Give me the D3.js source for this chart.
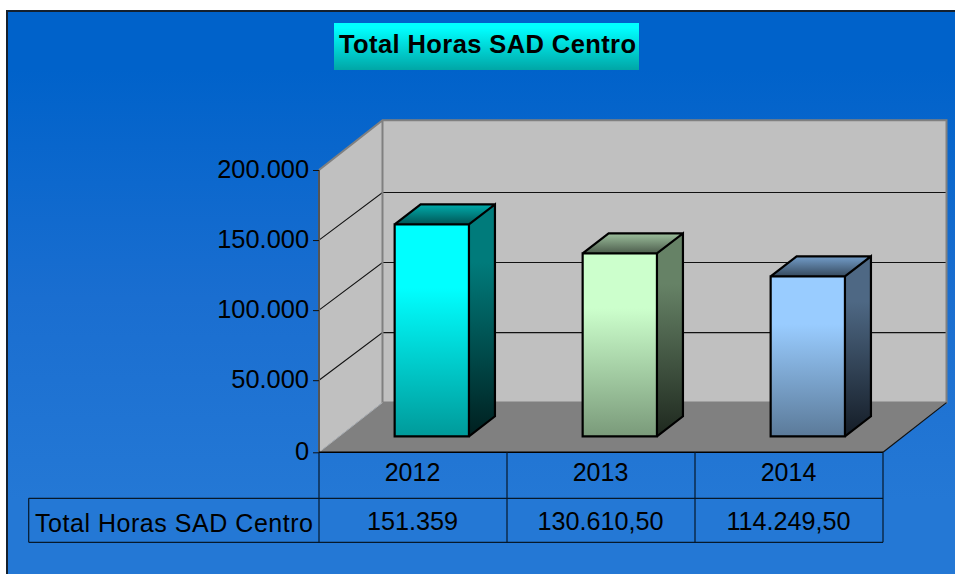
<!DOCTYPE html>
<html><head><meta charset="utf-8">
<style>html,body{margin:0;padding:0;background:#fff;overflow:hidden}svg{display:block}text{font-family:"Liberation Sans",Arial,sans-serif;fill:#000}</style>
<script src="https://cdn.jsdelivr.net/npm/d3@7"></script></head><body>
<svg id="c" width="955" height="574"></svg>
<script>
const chartTitle = "Total Horas SAD Centro";
const categories = ["2012","2013","2014"];
const seriesName = "Total Horas SAD Centro";
const seriesValues = [151359,130610.5,114249.5];
const valueLabels = ["151.359","130.610,50","114.249,50"];
const yTicks = [0,50000,100000,150000,200000];
const front = ["#00ffff","#ccffcc","#99ccff"];
const frontEnd = ["#009a9a","#7a9a7a","#5b7a99"];
const side = ["#007b7b","#668266","#4e6884"];
const sideEnd = ["#001f1f","#1e281e","#141c26"];
const topc = ["#00a8a8","#98ba98","#7099c4"];
const topEnd = ["#005555","#4c5c4c","#364a5e"];

const svg = d3.select("#c");
const defs = svg.append("defs");
function grad(id,stops){const g=defs.append("linearGradient").attr("id",id).attr("x1",0).attr("y1",0).attr("x2",0).attr("y2",1);
  stops.forEach(s=>g.append("stop").attr("offset",s[0]).attr("stop-color",s[1]));}
grad("bg",[[0.1,"#0062ca"],[0.5,"#1a6ed0"],[0.85,"#2478d5"]]);
grad("tt",[[0.1,"#00ffff"],[1,"#00a6a6"]]);
categories.forEach((c,i)=>{
  grad("f"+i,[[0.3,front[i]],[1,frontEnd[i]]]);
  grad("s"+i,[[0.25,side[i]],[1,sideEnd[i]]]);
  grad("t"+i,[[0.05,topc[i]],[1,topEnd[i]]]);
});

// frame
svg.append("rect").attr("x",7).attr("y",11).attr("width",960).attr("height",575).attr("fill","url(#bg)").attr("stroke","#14202e").attr("stroke-width",2);

// title
svg.append("rect").attr("x",334).attr("y",23).attr("width",305).attr("height",47).attr("fill","url(#tt)");
svg.append("text").attr("x",487.5).attr("y",53).attr("text-anchor","middle").attr("font-size",25.5).attr("font-weight","bold").attr("textLength",297).attr("lengthAdjust","spacing").text(chartTitle);

// geometry
const X0=319,X1=883,Y0=452.3,Y1=170,DX=63.5,DY=-49.7,GDY=-47.6;
const x=d3.scaleBand().domain(categories).range([X0,X1]);
const y=d3.scaleLinear().domain([0,50000,200000]).range([Y0,380.2,Y1]);
const poly=p=>p.map(q=>q.join(",")).join(" ");

// walls
svg.append("polygon").attr("points",poly([[X0,Y0],[X0+DX,Y0+DY],[X0+DX,Y1+DY],[X0,Y1]])).attr("fill","#c0c0c0");
svg.append("polygon").attr("points",poly([[X0+DX,Y0+DY],[X1+DX,Y0+DY],[X1+DX,Y1+DY],[X0+DX,Y1+DY]])).attr("fill","#c0c0c0");
svg.append("polygon").attr("points",poly([[X0,Y0],[X1,Y0],[X1+DX,Y0+DY],[X0+DX,Y0+DY]])).attr("fill","#808080");

// gridlines
const gridVals=yTicks.filter(v=>v>0&&v<200000);
svg.append("g").selectAll("path").data(gridVals).join("path")
  .attr("d",v=>`M${X0},${y(v)}L${X0+DX},${y(v)+GDY}L${X1+DX},${y(v)+GDY}`)
  .attr("fill","none").attr("stroke","#111").attr("stroke-width",1.1);

// wall borders
svg.append("path").attr("d",`M${X0},${Y1}L${X0+DX},${Y1+DY}L${X1+DX},${Y1+DY}L${X1+DX},${Y0+DY}L${X0+DX},${Y0+DY}L${X0+DX},${Y1+DY}`)
  .attr("fill","none").attr("stroke","#808080").attr("stroke-width",2);
svg.append("path").attr("d",`M${X0},${Y0}L${X0+DX},${Y0+DY}`).attr("stroke","#b0b0b0").attr("stroke-width",1);
svg.append("path").attr("d",`M${X1},${Y0}L${X1+DX},${Y0+DY}`).attr("stroke","#111").attr("stroke-width",1.2);
svg.append("line").attr("x1",X0).attr("x2",X0).attr("y1",Y1).attr("y2",Y0).attr("stroke","#555").attr("stroke-width",2);

// bars
const barW=74.3, bdx=26, bdy=-20, baseY=436.3, shift=18.8;
const hScale=d3.scaleLinear().domain([0,200000]).range([0,280]);
const bars=svg.append("g").selectAll("g").data(categories).join("g");
const bx=c=>x(c)+x.bandwidth()/2+shift-barW/2;
const bTop=(c,i)=>baseY-hScale(seriesValues[i]);
bars.append("polygon").attr("points",(c,i)=>poly([[bx(c)+barW,baseY],[bx(c)+barW+bdx,baseY+bdy],[bx(c)+barW+bdx,bTop(c,i)+bdy],[bx(c)+barW,bTop(c,i)]]))
  .attr("fill",(c,i)=>`url(#s${i})`);
bars.append("polygon").attr("points",(c,i)=>poly([[bx(c),bTop(c,i)],[bx(c)+barW,bTop(c,i)],[bx(c)+barW+bdx,bTop(c,i)+bdy],[bx(c)+bdx,bTop(c,i)+bdy]]))
  .attr("fill",(c,i)=>`url(#t${i})`);
bars.append("rect").attr("x",bx).attr("y",bTop).attr("width",barW).attr("height",(c,i)=>baseY-bTop(c,i)).attr("fill",(c,i)=>`url(#f${i})`);
bars.append("path").attr("d",(c,i)=>{const l=bx(c),r=l+barW,t=bTop(c,i);
  return `M${l},${baseY}H${r}V${t}H${l}ZM${r},${baseY}L${r+bdx},${baseY+bdy}V${t+bdy}L${r},${t}M${l},${t}L${l+bdx},${t+bdy}H${r+bdx}`;})
  .attr("fill","none").attr("stroke","#000").attr("stroke-width",2.2).attr("stroke-linejoin","miter");

// y axis
const fmt=v=>d3.format(",")(v).replace(/,/g,".");
const axis=d3.axisLeft(y).tickValues(yTicks).tickFormat(fmt).tickSize(6).tickPadding(4);
const ag=svg.append("g").attr("transform",`translate(${X0},0)`).call(axis);
ag.select(".domain").remove();
ag.selectAll("line").attr("stroke","#111");
ag.selectAll("text").attr("font-size",25.4).attr("fill","#000").attr("font-family",'"Liberation Sans",Arial,sans-serif').attr("dy","0.29em");

// data table
const tl=28.7,rowA=498.3,rowB=542.3,tc="#06182a";
const tg=svg.append("g").attr("stroke",tc).attr("stroke-width",1.2).attr("fill","none");
tg.append("line").attr("x1",X0).attr("x2",X1).attr("y1",Y0).attr("y2",Y0).attr("stroke","#000").attr("stroke-width",1.6);
tg.append("line").attr("x1",tl).attr("x2",X1).attr("y1",rowA).attr("y2",rowA);
tg.append("line").attr("x1",tl).attr("x2",X1).attr("y1",rowB).attr("y2",rowB);
tg.append("line").attr("x1",tl).attr("x2",tl).attr("y1",rowA).attr("y2",rowB);
tg.selectAll("line.v").data([X0,...categories.map(c=>x(c)+x.bandwidth())]).join("line").attr("class","v")
  .attr("x1",d=>d).attr("x2",d=>d).attr("y1",Y0).attr("y2",rowB);
svg.append("g").selectAll("text").data(categories).join("text")
  .attr("x",c=>x(c)+x.bandwidth()/2-0.5).attr("y",481).attr("text-anchor","middle").attr("font-size",25).text(c=>c);
svg.append("g").selectAll("text").data(valueLabels).join("text")
  .attr("x",(d,i)=>x(categories[i])+x.bandwidth()/2-0.5).attr("y",529.5).attr("text-anchor","middle").attr("font-size",25.2).text(d=>d);
svg.append("text").attr("x",35).attr("y",531.7).attr("font-size",25).attr("textLength",278).attr("lengthAdjust","spacing").text(seriesName);
</script></body></html>
